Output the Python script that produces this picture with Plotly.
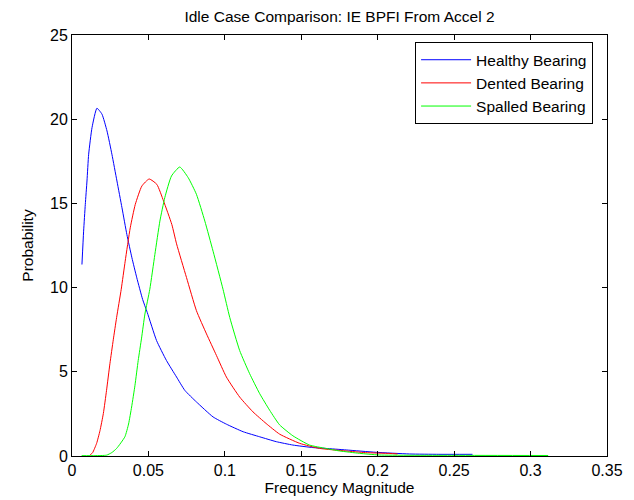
import plotly.graph_objects as go

healthy_x = [0.0065, 0.0076, 0.0087, 0.0098, 0.0109, 0.0131, 0.0163, 0.0196, 0.0229, 0.0261,
             0.0294, 0.0327, 0.0359, 0.0392, 0.0424, 0.0462, 0.0492, 0.0553, 0.0618, 0.0684,
             0.0738, 0.0814, 0.0923, 0.101, 0.112, 0.1228, 0.1337, 0.1445, 0.1576, 0.166,
             0.1794, 0.199, 0.2208, 0.24, 0.262]
healthy_y = [11.37, 13.35, 14.94, 16.33, 17.92, 19.5, 20.65, 20.3, 19.3, 17.92,
             16.33, 14.74, 13.15, 11.77, 10.58, 9.3, 8.53, 6.86, 5.67, 4.69,
             3.9, 3.21, 2.32, 1.89, 1.44, 1.14, 0.85, 0.65, 0.5, 0.45,
             0.36, 0.22, 0.12, 0.1, 0.1]

dented_x = [0.0118, 0.0135, 0.0161, 0.0183, 0.0205, 0.0226, 0.0248, 0.027, 0.0292, 0.0322,
            0.0348, 0.0381, 0.0414, 0.0457, 0.0505, 0.0555, 0.0599, 0.0653, 0.0684, 0.0749,
            0.0814, 0.088, 0.0945, 0.101, 0.1097, 0.1184, 0.127, 0.1358, 0.149, 0.162,
            0.179, 0.192, 0.208, 0.213]
dented_y = [0.05, 0.2, 0.75, 1.5, 2.52, 3.9, 5.48, 6.9, 8.23, 9.9,
            11.57, 13.55, 14.94, 16.03, 16.45, 16.13, 15.14, 13.75, 12.6, 10.6,
            8.63, 7.25, 5.97, 4.69, 3.5, 2.62, 1.93, 1.3, 0.75, 0.45,
            0.3, 0.2, 0.15, 0.12]

spalled_x = [0.0063, 0.015, 0.0226, 0.026, 0.0292, 0.0346, 0.037, 0.039, 0.0412, 0.0433,
             0.0455, 0.0477, 0.0509, 0.0542, 0.0575, 0.0607, 0.0651, 0.0705, 0.076, 0.0814,
             0.0869, 0.0923, 0.0988, 0.1032, 0.1097, 0.1162, 0.1228, 0.1293, 0.1358, 0.1445,
             0.1554, 0.166, 0.175, 0.188, 0.201, 0.25, 0.3115]
spalled_y = [0.02, 0.02, 0.05, 0.2, 0.45, 1.14, 1.9, 2.91, 4.2, 5.67,
             7.0, 8.43, 9.9, 11.96, 13.95, 15.34, 16.63, 17.16, 16.53, 15.54,
             13.95, 12.16, 9.9, 8.23, 6.26, 4.89, 3.7, 2.72, 1.85, 1.2,
             0.65, 0.45, 0.3, 0.16, 0.06, 0.04, 0.03]

x_ticks = [0, 0.05, 0.1, 0.15, 0.2, 0.25, 0.3, 0.35]
x_tick_labels = ["0", "0.05", "0.1", "0.15", "0.2", "0.25", "0.3", "0.35"]
y_ticks = [0, 5, 10, 15, 20, 25]

font_family = "Liberation Sans, Arial, sans-serif"
FS = 15.5

fig = go.Figure()
fig.add_trace(go.Scatter(x=healthy_x, y=healthy_y, mode="lines", name="Healthy Bearing",
                         line=dict(color="#0000ff", width=1, shape="spline", smoothing=0.5)))
fig.add_trace(go.Scatter(x=dented_x, y=dented_y, mode="lines", name="Dented Bearing",
                         line=dict(color="#ff0000", width=1, shape="spline", smoothing=0.5)))
fig.add_trace(go.Scatter(x=spalled_x, y=spalled_y, mode="lines", name="Spalled Bearing",
                         line=dict(color="#00ff00", width=1, shape="spline", smoothing=0.5)))

axis_common = dict(showline=True, linecolor="black", linewidth=1, mirror="ticks",
                   ticks="inside", ticklen=5, tickcolor="black", showgrid=False,
                   zeroline=False, automargin=False,
                   tickfont=dict(family=font_family, size=16, color="black"))

fig.update_layout(
    width=634, height=500,
    margin=dict(l=72, r=27, t=35, b=44),
    paper_bgcolor="white", plot_bgcolor="white",
    font=dict(family=font_family, size=FS, color="black"),
    title=dict(text="Idle Case Comparison: IE BPFI From Accel 2", x=0.5, xref="paper",
               xanchor="center", y=1 - 17/500, yanchor="middle", yref="container",
               font=dict(family=font_family, size=FS, color="black")),
    xaxis=dict(range=[0, 0.35], tickvals=x_ticks, ticktext=x_tick_labels,
               title=dict(text="Frequency Magnitude", standoff=2,
                          font=dict(family=font_family, size=FS)), **axis_common),
    yaxis=dict(range=[0, 25], tickvals=y_ticks,
               title=dict(text="Probability", standoff=12,
                          font=dict(family=font_family, size=FS)), **axis_common),
    legend=dict(x=0.974, y=0.983, xanchor="right", yanchor="top",
                bordercolor="black", borderwidth=1, bgcolor="white",
                font=dict(family=font_family, size=FS, color="black"),
                itemwidth=50, tracegroupgap=0),
    showlegend=True,
)

fig.write_html("out.html")
